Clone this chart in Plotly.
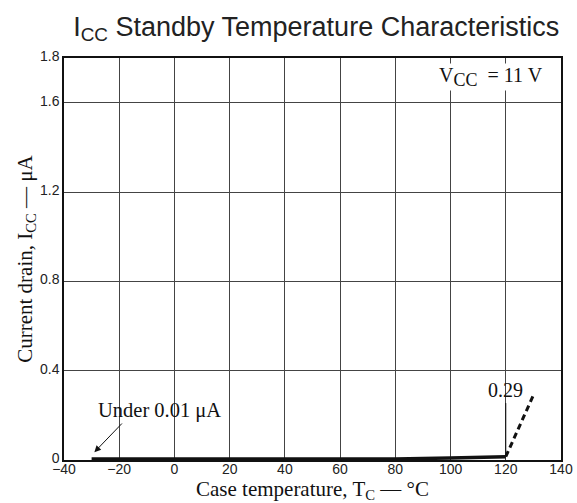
import plotly.graph_objects as go

temps = [-30, -20, 0, 20, 40, 60, 80, 100, 120]
icc = [0.004, 0.004, 0.004, 0.004, 0.004, 0.004, 0.005, 0.009, 0.015]
dash_t = [120, 130]
dash_i = [0.015, 0.29]
x_ticks = [-40, -20, 0, 20, 40, 60, 80, 100, 120, 140]
y_ticks = [0, 0.4, 0.8, 1.2, 1.6, 1.8]
y_tick_text = ["0", "0.4", "0.8", "1.2", "1.6", "1.8"]

fig = go.Figure()
fig.add_trace(go.Scatter(x=temps, y=icc, mode="lines",
                         line=dict(color="#111", width=3.5), showlegend=False))
fig.add_trace(go.Scatter(x=dash_t, y=dash_i, mode="lines",
                         line=dict(color="#111", width=3, dash="6px,4px"), showlegend=False))

# thin leader line for 0.29
fig.add_shape(type="line", x0=120, x1=120, y0=0.022, y1=0.255,
              line=dict(color="#111", width=1))

serif = "Liberation Serif, Times New Roman, serif"
sans = "Liberation Sans, Arial, sans-serif"

fig.add_annotation(x=120, y=0.313, text="0.29", showarrow=False,
                   font=dict(family=serif, size=20, color="#111"))
fig.add_annotation(x=-29, y=0.035, ax=-18.5, ay=0.17, axref="x", ayref="y",
                   text="", showarrow=True, arrowhead=2, arrowsize=1.3,
                   arrowwidth=1, arrowcolor="#111")
fig.add_annotation(x=-5.4, y=0.222, text="Under 0.01 μA", showarrow=False,
                   font=dict(family=serif, size=20.5, color="#111"))
fig.add_annotation(x=114.6, y=1.715,
                   text="V<sub><span style='font-size:18px'>CC</span></sub>  = 11 V",
                   showarrow=False, bgcolor="white", borderpad=0,
                   font=dict(family=serif, size=20, color="#111"))

fig.update_layout(
    width=577, height=503,
    margin=dict(l=64, r=16, t=58, b=43),
    paper_bgcolor="white", plot_bgcolor="white",
    title=dict(text="I<sub>CC</sub> Standby Temperature Characteristics",
               x=0.548, xanchor="center", xref="container",
               y=0.948, yanchor="middle", yref="container",
               font=dict(family=sans, size=27, color="#222")),
    xaxis=dict(range=[-40, 140], tickvals=x_ticks, showgrid=True, automargin=False,
               gridcolor="#444", gridwidth=1, zeroline=False,
               showline=True, linecolor="#111", linewidth=1.5, mirror=True,
               ticks="", ticklabelstandoff=-5,
               tickfont=dict(family=sans, size=14, color="#222"),
               title=dict(text="Case temperature, T<sub>C</sub> — °C", standoff=8,
                          font=dict(family=serif, size=21, color="#111"))),
    yaxis=dict(range=[0, 1.8], tickvals=y_ticks, ticktext=y_tick_text, showgrid=True,
               automargin=False, ticklabelshift=-2,
               gridcolor="#444", gridwidth=1, zeroline=False,
               showline=True, linecolor="#111", linewidth=1.5, mirror=True,
               ticks="", tickfont=dict(family=sans, size=14, color="#222"),
               title=dict(text="Current drain, I<sub>CC</sub> — μA", standoff=2,
                          font=dict(family=serif, size=21, color="#111"))),
)

fig.write_html("out.html")
